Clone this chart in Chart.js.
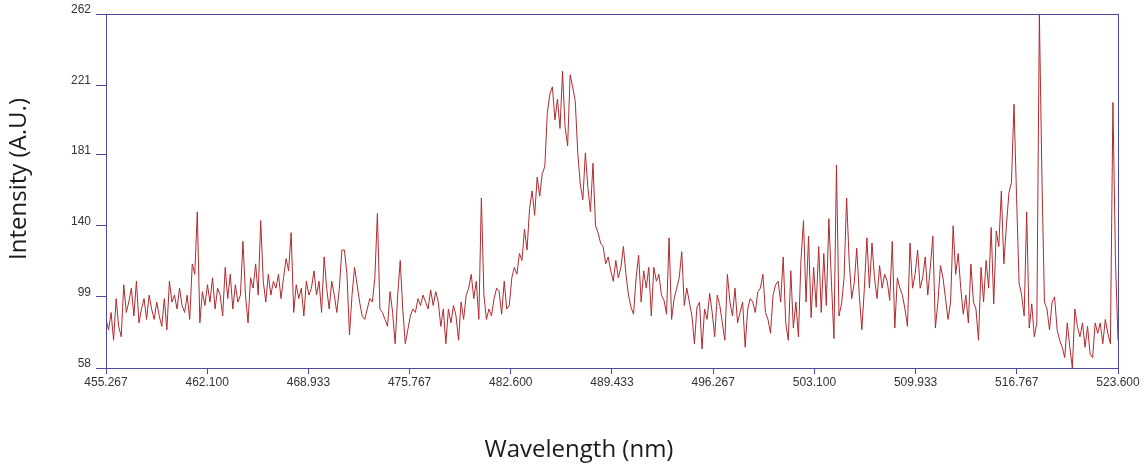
<!DOCTYPE html>
<html>
<head>
<meta charset="utf-8">
<title>Spectrum</title>
<script src="https://cdn.jsdelivr.net/npm/chart.js@4.4.1/dist/chart.umd.min.js"></script>
<style>
    html, body { margin: 0; padding: 0; background: #ffffff; }
    #wrap { width: 1148px; height: 465px; }
</style>
</head>
<body>
<div id="wrap"><canvas id="lineChart" width="1148" height="465"></canvas></div>
<script>
// wavelength range of the spectrometer (nm), samples are evenly spaced
var wlStart = 455.267;
var wlEnd = 523.600;

var xTickLabels = ['455.267', '462.100', '468.933', '475.767', '482.600', '489.433',
    '496.267', '503.100', '509.933', '516.767', '523.600'];
var yTickLabels = ['58', '99', '140', '181', '221', '262'];

// intensity readings (A.U.) left to right
var intensity = [
    86, 80, 90, 74, 98, 82, 76, 106, 90, 96, 104, 88, 108, 84, 92, 98, 86, 100, 92, 86,
    96, 88, 82, 98, 80, 108, 96, 100, 92, 104, 94, 90, 100, 86, 118, 112, 148, 84, 102, 94,
    106, 96, 110, 92, 104, 100, 88, 116, 98, 112, 92, 106, 96, 100, 131, 100, 84, 110, 104, 118,
    100, 143, 108, 96, 112, 100, 108,
    104, 112, 98, 110, 121, 114, 136, 90, 106, 98, 104, 88, 108, 100, 104, 114, 100, 108, 90, 122,
    104, 92, 108, 100, 90, 104, 126, 126, 112, 77, 100, 116, 106, 96, 88, 86, 92, 98, 96, 110,
    147, 92, 90, 86, 82, 102, 90, 72, 100, 120, 92, 72, 80, 88, 92, 90, 98, 94, 100, 96,
    92, 103, 94, 102, 96, 82, 92,
    72, 92, 84, 94, 88, 74, 96, 86, 100, 104, 112, 98, 108, 86, 156, 100, 86, 92, 88, 98,
    104, 102, 89, 108, 92, 94, 110, 116, 112, 124, 120, 138, 126, 150, 160, 146, 168, 157, 170, 174,
    205, 216, 220, 201, 213, 196, 229, 197, 186, 227, 220, 212, 182, 164, 155, 182, 162, 148, 176, 140,
    136, 130, 128, 118, 122, 114,
    108, 120, 110, 116, 128, 112, 100, 93, 89, 110, 123, 96, 114, 104, 116, 88, 116, 108, 112, 100,
    97, 89, 133, 86, 98, 104, 110, 125, 94, 104, 96, 88, 72, 93, 96, 69, 92, 86, 101, 90,
    76, 100, 94, 84, 74, 112, 96, 88, 104, 84, 90, 96, 70, 92, 98, 96, 90, 102, 104, 112,
    90, 86, 78, 100, 106, 108, 96,
    122, 84, 74, 114, 81, 96, 76, 120, 143, 96, 134, 87, 116, 93, 128, 90, 124, 94, 144, 108,
    75, 175, 88, 95, 110, 156, 120, 98, 107, 127, 100, 80, 104, 133, 104, 130, 110, 98, 117, 104,
    112, 108, 97, 131, 81, 110, 104, 100, 92, 82, 130, 104, 112, 126, 104, 110, 122, 100, 116, 134,
    81, 96, 117, 110, 98, 86,
    96, 140, 112, 124, 104, 89, 100, 84, 118, 96, 92, 74, 116, 96, 120, 104, 139, 95, 137, 128,
    160, 118, 140, 159, 165, 210, 157, 107, 100, 88, 148, 81, 95, 76, 84, 262, 168, 96, 92, 80,
    96, 99, 80, 74, 70, 64, 84, 70, 58, 92, 82, 76, 84, 70, 82, 66, 64, 84, 78, 84,
    72, 86, 78, 72, 211, 120, 74
];

var axisColor = '#4a4aa6';
var lineColor = '#b02a2e';

var points = [];
for (var i = 0; i < intensity.length; i++) {
    points.push({ x: wlStart + i * (wlEnd - wlStart) / (intensity.length - 1), y: intensity[i] });
}

// box round the plot area and the two axis titles
var framePlugin = {
    id: 'frame',
    afterDraw: function (chart) {
        var ctx = chart.ctx;
        var a = chart.chartArea;
        ctx.save();
        ctx.strokeStyle = axisColor;
        ctx.lineWidth = 1;
        ctx.strokeRect(Math.round(a.left) + 0.5, Math.round(a.top) + 0.5,
            Math.round(a.right - a.left), Math.round(a.bottom - a.top));

        ctx.fillStyle = '#1a1a1a';
        ctx.font = '24px "Open Sans", sans-serif';
        ctx.textAlign = 'center';
        ctx.textBaseline = 'middle';
        ctx.fillText('Wavelength (nm)', 579, 450);

        ctx.translate(19, 179);
        ctx.rotate(-Math.PI / 2);
        ctx.fillText('Intensity (A.U.)', 0, 0);
        ctx.restore();
    }
};

var ctx = document.getElementById('lineChart').getContext('2d');
var myChart = new Chart(ctx, {
    type: 'line',
    data: {
        datasets: [{
            label: 'Intensity',
            data: points,
            borderColor: lineColor,
            borderWidth: 1,
            pointRadius: 0,
            tension: 0,
            fill: false
        }]
    },
    options: {
        responsive: false,
        animation: false,
        devicePixelRatio: 1,
        layout: {
            padding: { top: 14, right: 30, left: 0, bottom: 0 }
        },
        plugins: {
            legend: { display: false },
            tooltip: { enabled: false }
        },
        scales: {
            x: {
                type: 'linear',
                min: wlStart,
                max: wlEnd,
                afterBuildTicks: function (scale) {
                    scale.ticks = xTickLabels.map(function (t) { return { value: parseFloat(t) }; });
                },
                afterFit: function (scale) { scale.height = 97; },
                ticks: {
                    autoSkip: false,
                    maxRotation: 0,
                    padding: 1,
                    color: '#333333',
                    font: { family: '"Liberation Sans", Arial, sans-serif', size: 12 },
                    callback: function (value, index) { return xTickLabels[index]; }
                },
                grid: {
                    drawOnChartArea: false,
                    drawTicks: true,
                    tickLength: 6,
                    color: axisColor
                },
                border: { display: true, color: axisColor }
            },
            y: {
                min: 58,
                max: 262,
                afterBuildTicks: function (scale) {
                    scale.ticks = yTickLabels.map(function (t) { return { value: parseFloat(t) }; });
                },
                afterFit: function (scale) { scale.width = 106; },
                ticks: {
                    autoSkip: false,
                    padding: 5,
                    labelOffset: -4,
                    color: '#333333',
                    font: { family: '"Liberation Sans", Arial, sans-serif', size: 12 },
                    callback: function (value, index) { return yTickLabels[index]; }
                },
                grid: {
                    drawOnChartArea: false,
                    drawTicks: true,
                    tickLength: 10,
                    color: axisColor
                },
                border: { display: true, color: axisColor }
            }
        }
    },
    plugins: [framePlugin]
});
</script>
</body>
</html>
